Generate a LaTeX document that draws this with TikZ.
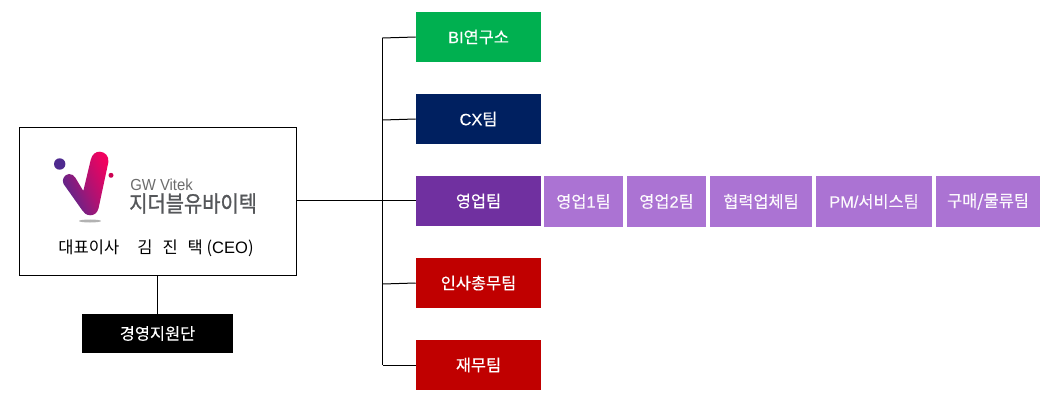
\documentclass[tikz,border=0pt]{standalone}
\usepackage{fontspec}
\setmainfont{Noto Sans CJK KR}
\newfontfamily\krbold{Noto Sans CJK KR}[FakeBold=0.3]
\newfontfamily\krname{Noto Sans CJK KR}[FakeBold=1.1,FakeStretch=0.88]
\newfontfamily\latinf{Liberation Sans}
\newfontfamily\latinb{Liberation Sans}[FakeBold=0.3]
\newfontfamily\latinn{Liberation Sans}[FakeStretch=0.93]
\usetikzlibrary{shapes.geometric}
\definecolor{cgreen}{HTML}{00B050}
\definecolor{cnavy}{HTML}{002060}
\definecolor{cpurple}{HTML}{7030A0}
\definecolor{cred}{HTML}{C00000}
\definecolor{clight}{HTML}{AB73D3}
\definecolor{lpurple}{HTML}{4F2A8F}
\definecolor{lpink}{HTML}{F0025F}
\definecolor{lgray}{HTML}{55575A}
\tikzset{
  box/.style={draw=none,inner sep=0pt,anchor=center,text=white,font=\krbold\fontsize{12.3pt}{14pt}\selectfont},
  team/.style={box,minimum width=93.75pt,minimum height=37.5pt},
  sub/.style={box,fill=clight,minimum height=38.25pt,text=white!96!clight},
  conn/.style={draw=black,line width=0.75pt},
}
\begin{document}
\begin{tikzpicture}[x=0.75pt,y=-0.75pt]
\useasboundingbox (0,0) rectangle (1062,420);
% CEO box
\node[draw=black,line width=0.75pt,minimum width=207.75pt,minimum height=111pt,inner sep=0pt] (ceo) at (158,201.5) {};
% logo
\fill[lpurple] (59.7,164) circle (5.7);
\fill[lpink!85!black] (111,175.3) circle (2.5);
\fill[gray!60] (90,221) ellipse (11 and 1.5);
\shade[left color=lpurple,right color=lpink,middle color=lpurple!45!lpink,shading angle=115]
  (63.6,184) .. controls (61.5,180) and (64,174.5) .. (69,174)
  .. controls (72,173.8) and (74,175.5) .. (75.5,178)
  -- (83.3,191)
  -- (90.7,160)
  .. controls (92,154) and (96,151.5) .. (100,151.7)
  .. controls (105,152) and (109,156) .. (108.4,162)
  -- (98.6,208)
  .. controls (97.5,213) and (94,215.5) .. (90,215.3)
  .. controls (86,215) and (84,213) .. (82,210)
  -- cycle;
\node[text=gray!85!black,anchor=west,inner sep=0pt,font=\latinn\fontsize{12pt}{14pt}\selectfont] (gw) at (130,185) {GW Vitek};
\node[text=lgray,anchor=west,inner sep=0pt,font=\krname\fontsize{16.9pt}{19pt}\selectfont] (kname) at (129,203.5) {지더블유바이텍};
\node[text=black,inner sep=0pt,font=\fontsize{12.4pt}{14pt}\selectfont] (rep) at (156,248.5) {대표이사\hspace{1.1em}김\hspace{0.6em}진\hspace{0.6em}택 ({\latinf CEO})};
% support
\node[box,fill=black,minimum width=113.25pt,minimum height=29.25pt] (sup) at (157.5,333.5) {경영지원단};
% teams
\node[team,fill=cgreen] (bi) at (478.5,37) {{\latinb BI}연구소};
\node[team,fill=cnavy] (cx) at (478.5,119) {{\latinb CX}팀};
\node[team,fill=cpurple] (sales) at (478.5,201) {영업팀};
\node[team,fill=cred] (hr) at (478.5,283) {인사총무팀};
\node[team,fill=cred] (fin) at (478.5,365) {재무팀};
% sub teams
\node[sub,minimum width=59.25pt] (s1) at (583.5,201.5) {영업{\latinb 1}팀};
\node[sub,minimum width=59.25pt] (s2) at (666.5,201.5) {영업{\latinb 2}팀};
\node[sub,minimum width=76.5pt] (s3) at (761,201.5) {협력업체팀};
\node[sub,minimum width=87pt] (s4) at (874,201.5) {{\latinb PM/}서비스팀};
\node[sub,minimum width=78pt] (s5) at (988,201.5) {구매/물류팀};
% connectors
\coordinate (t1) at (382.5,38);
\coordinate (t2) at (382.5,120);
\coordinate (t3) at (382.5,201);
\coordinate (t4) at (382.5,284);
\coordinate (t5) at (382.5,365);
\draw[conn] (t1) -- (t5);
\draw[conn] (t1) -- (bi.west);
\draw[conn] (t2) -- (cx.west);
\draw[conn] (ceo.east |- t3) -- (sales.west);
\draw[conn] (t4) -- (hr.west);
\draw[conn] (t5) -- (fin.west);
\draw[conn] (ceo.south -| sup.north) -- (sup.north);
\end{tikzpicture}
\end{document}
